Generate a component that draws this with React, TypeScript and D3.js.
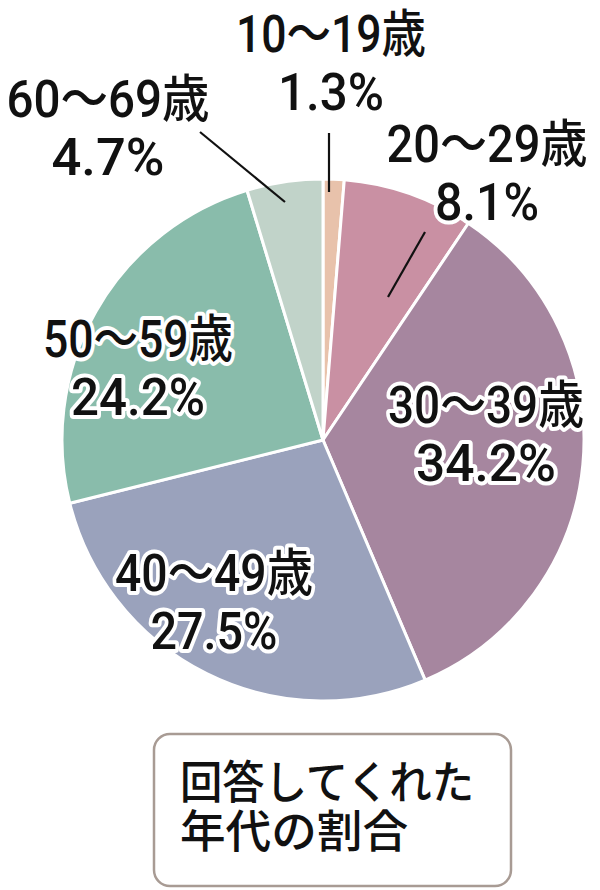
import React from "react";
import * as d3 from "d3";

const categories = ["10～19歳", "20～29歳", "30～39歳", "40～49歳", "50～59歳", "60～69歳"];
const shares = [1.3, 8.1, 34.2, 27.5, 24.2, 4.7];
const colors = ["#e8c2ab", "#c990a3", "#a6869f", "#9aa2bc", "#89bcab", "#c1d3c9"];
const boxLines = ["回答してくれた", "年代の割合"];

// label layout: center x, first-line baseline, line widths
const labelLayout = [
  { x: 331, y: 52, w1: 190, w2: 106 },
  { x: 487, y: 162, w1: 201, w2: 104 },
  { x: 486, y: 423, w1: 196, w2: 140 },
  { x: 214, y: 591, w1: 198, w2: 127 },
  { x: 138, y: 357, w1: 190, w2: 134 },
  { x: 108, y: 117, w1: 203, w2: 113 },
];
const leaders = [
  { i: 0, x1: 329, y1: 133, x2: 329, y2: 192 },
  { i: 1, x1: 425, y1: 232, x2: 388, y2: 297 },
  { i: 5, x1: 200, y1: 132, x2: 285, y2: 202 },
];

const W = 600;
const H = 890;
const cx = 323;
const cy = 440;
const R = 261;

export default function App() {
  const pie = d3
    .pie<number>()
    .sort(null)
    .value((d) => d)
    .startAngle(0)
    .endAngle(2 * Math.PI);
  const arcs = pie(shares);
  const arc = d3.arc<d3.PieArcDatum<number>>().innerRadius(0).outerRadius(R);
  const fmt = d3.format(".1f");
  const labelFont = "Roboto, 'Noto Sans CJK JP', sans-serif";
  return (
    <svg
      width={W}
      height={H}
      viewBox={`0 0 ${W} ${H}`}
      style={{ position: "absolute", left: 0, top: 0, background: "#fff" }}
    >
      <g transform={`translate(${cx},${cy})`}>
        {arcs.map((a, i) => (
          <path key={i} d={arc(a) || ""} fill={colors[i]} stroke="#fff" strokeWidth={3} strokeLinejoin="round" />
        ))}
      </g>
      {leaders.map((l, k) => (
        <line key={k} x1={l.x1} y1={l.y1} x2={l.x2} y2={l.y2} stroke="#111" strokeWidth={2.2} />
      ))}
      {categories.map((c, i) => {
        const L = labelLayout[i];
        return (
          <g key={c} fontFamily={labelFont} fontWeight={500} fontSize={51} fill="#111" textAnchor="middle">
            <text
              x={L.x}
              y={L.y}
              textLength={L.w1}
              lengthAdjust="spacingAndGlyphs"
              stroke="#fff"
              strokeWidth={8}
              strokeLinejoin="round"
              paintOrder="stroke"
            >
              {c}
            </text>
            <text
              x={L.x}
              y={L.y + 58}
              textLength={L.w2}
              lengthAdjust="spacingAndGlyphs"
              stroke="#fff"
              strokeWidth={8}
              strokeLinejoin="round"
              paintOrder="stroke"
            >
              {fmt(shares[i]) + "%"}
            </text>
          </g>
        );
      })}
      <rect x={154} y={734} width={357} height={152} rx={16} ry={16} fill="#fff" stroke="#a89b94" strokeWidth={2.5} />
      <g fontFamily="'Noto Sans CJK JP', sans-serif" fontSize={45} fontWeight={500} fill="#111">
        <text x={180} y={799} textLength={294} lengthAdjust="spacingAndGlyphs">
          {boxLines[0]}
        </text>
        <text x={180} y={848} textLength={228} lengthAdjust="spacingAndGlyphs">
          {boxLines[1]}
        </text>
      </g>
    </svg>
  );
}
